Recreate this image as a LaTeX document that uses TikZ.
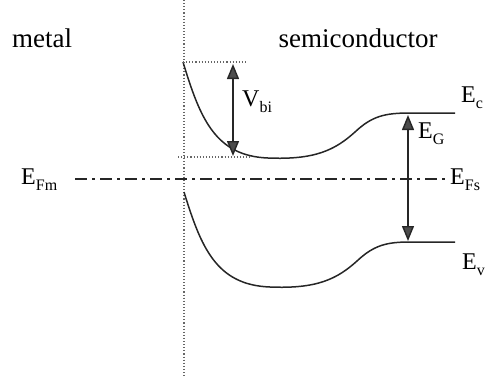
\documentclass[tikz,border=0pt]{standalone}
\usepackage{fontspec}
\setmainfont{Liberation Serif}
\usetikzlibrary{arrows.meta}
\tikzstyle{band} = [line width=1.5pt, black!85]
\tikzstyle{guide} = [dotted, line width=1.1pt, black!60]
\tikzstyle{fermi} = [line width=1.5pt, black!85, dash pattern=on 12pt off 5pt on 3pt off 5pt]
\tikzstyle{arrow} = [line width=1.4pt, black!85, {Triangle[length=15pt,width=12pt,fill=black!70]}-{Triangle[length=15pt,width=12pt,fill=black!70]}]
\tikzstyle{lbl} = [inner sep=0pt, font=\fontsize{24}{24}\selectfont]
\tikzstyle{side} = [inner sep=0pt, font=\fontsize{27}{27}\selectfont]
\newcommand{\lo}[1]{\raisebox{-0.25em}{\fontsize{16}{16}\selectfont #1}}

\begin{document}
\begin{tikzpicture}[x=1pt,y=-1pt]
\useasboundingbox (0,0) rectangle (488,376);
% interface
\coordinate (IfTop) at (184,0);
\coordinate (IfBot) at (184,376);
\draw [guide] (IfTop) -- (IfBot);
\node (Metal) [side] at (42,38) {metal};
\node (Semi) [side] at (358,38) {semiconductor};
% conduction band
\coordinate (Ctop) at (183,62);
\coordinate (Cend) at (455,113);
\draw [band] (Ctop) .. controls (200,118) and (215,156) .. (268,158) .. controls (315,160) and (335,150) .. (355,132) .. controls (372,116) and (385,113) .. (410,113) -- (Cend);
% valence band
\coordinate (Vtop) at (184,192);
\coordinate (Vend) at (455,242);
\draw [band] (Vtop) .. controls (201,247) and (216,285) .. (270,287) .. controls (317,289) and (337,279) .. (357,261) .. controls (374,245) and (387,242) .. (410,242) -- (Vend);
% barrier
\coordinate (BarHi) at (247,62);
\coordinate (BarLoL) at (178,157);
\coordinate (BarLoR) at (252,157);
\draw [guide] (Ctop) -- (BarHi);
\draw [guide] (BarLoL) -- (BarLoR);
\coordinate (VbiA) at (233,64);
\coordinate (VbiB) at (233,156);
\draw [arrow] (VbiA) -- (VbiB);
\node (Vbi) [lbl, anchor=west] at (242,102) {V\lo{bi}};
% fermi level
\coordinate (FmL) at (75,179);
\coordinate (FsR) at (446,179);
\draw [fermi] (FmL) -- (FsR);
\node (EFm) [lbl, anchor=west] at (21,180) {E\lo{Fm}};
\node (EFs) [lbl, anchor=west] at (450,180) {E\lo{Fs}};
% gap
\coordinate (GapA) at (408,115);
\coordinate (GapB) at (408,241);
\draw [arrow] (GapA) -- (GapB);
\node (EG) [lbl, anchor=west] at (418,134) {E\lo{G}};
\node (Ec) [lbl, anchor=west] at (461,98) {E\lo{c}};
\node (Ev) [lbl, anchor=west] at (462,265) {E\lo{v}};
\end{tikzpicture}
\end{document}
